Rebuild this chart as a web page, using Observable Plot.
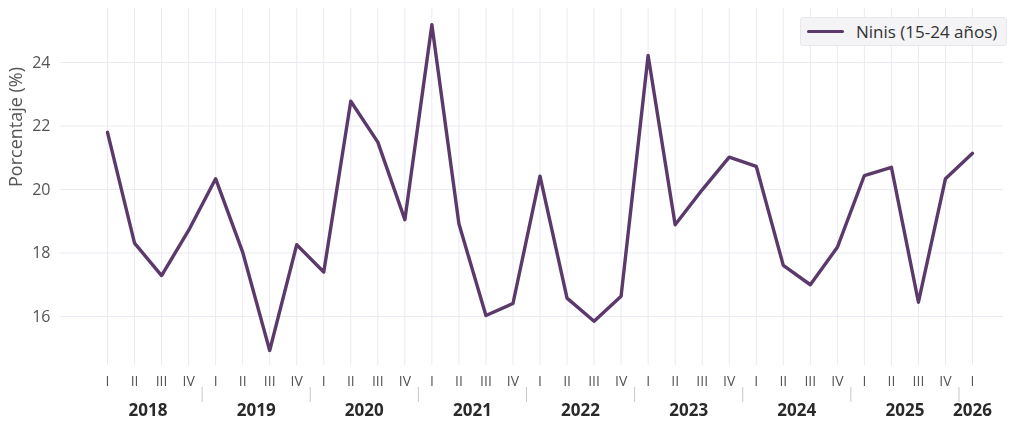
<!DOCTYPE html>
<html><head><meta charset="utf-8">
<script src="https://cdn.jsdelivr.net/npm/d3@7"></script>
<script src="https://cdn.jsdelivr.net/npm/@observablehq/plot@0.6"></script>
<style>
body{margin:0;background:#fff;font-family:"Open Sans",sans-serif}
#wrap{position:relative;width:1024px;height:434px}
#chart svg{will-change:transform;transform:translateZ(0)}
#legend{position:absolute;left:800px;top:17px;width:207px;height:29px;box-sizing:border-box;background:#f4f4f6;border:1px solid #e8e8ec;border-radius:3px;display:flex;align-items:center;font-size:17px;color:#333}
#legend .sw{display:inline-block;width:37px;height:3.5px;background:#5b3a6b;border-radius:2px;margin-left:6px;margin-right:12px}
</style></head>
<body>
<div id="wrap"><div id="chart"></div><div id="legend"><span class="sw"></span><span>Ninis (15-24 años)</span></div></div>
<script>
const years = [2018, 2019, 2020, 2021, 2022, 2023, 2024, 2025, 2026];
const quarters = ["I", "II", "III", "IV"];
const values = [
  21.80, 18.31, 17.29, 18.71,
  20.34, 18.03, 14.93, 18.26,
  17.40, 22.78, 21.49, 19.05,
  25.19, 18.92, 16.03, 16.41,
  20.42, 16.58, 15.85, 16.64,
  24.22, 18.89, 19.99, 21.02,
  20.73, 17.61, 17.00, 18.18,
  20.44, 20.70, 16.45, 20.34,
  21.14
];
const yTicks = [16, 18, 20, 22, 24];
const yTitle = "Porcentaje (%)";

const rows = values.map((v, i) => ({idx: i, year: years[Math.floor(i / 4)], q: quarters[i % 4], value: v}));
const n = values.length;
const yearRows = years.map((y, k) => {
  const s = 4 * k, e = Math.min(4 * k + 3, n - 1);
  return {year: y, center: (s + e) / 2};
});
const seps = years.slice(1).map((y, k) => 4 * (k + 1) - 0.5);

const chart = Plot.plot({
  width: 1024, height: 434,
  marginTop: 8, marginBottom: 69, marginLeft: 60, marginRight: 21,
  style: {fontFamily: "'Open Sans', sans-serif", background: "#fff"},
  x: {domain: [0, n - 1], range: [107, 972]},
  y: {domain: [14.457, 25.70]},
  marks: [
    Plot.ruleY(yTicks, {stroke: "#ece9f2", strokeWidth: 1}),
    Plot.ruleX(rows, {x: "idx", stroke: "#ece9f2", strokeWidth: 1}),
    Plot.line(rows, {x: "idx", y: "value", stroke: "#5b3a6b", strokeWidth: 3.4, curve: "linear"}),
    Plot.axisY({ticks: yTicks, tickSize: 0, tickPadding: 10, fontSize: 16, fill: "#555", label: null}),
    Plot.text([yTitle], {text: d => d, frameAnchor: "left", rotate: -90, dx: -44, fontSize: 18, fill: "#555"}),
    Plot.axisX({ticks: rows.map(d => d.idx), tickSize: 0, tickPadding: 11, fontSize: 14, fill: "#555",
      tickFormat: i => quarters[i % 4], label: null}),
    Plot.axisX({ticks: seps, tickSize: 15, tickFormat: () => "", dy: 22, stroke: "#c8c8c8", label: null}),
    Plot.text(yearRows, {x: "center", text: d => String(d.year), frameAnchor: "bottom", dy: 50,
      fontSize: 17, fontWeight: 700, fill: "#2a2a2a"})
  ]
});
document.getElementById("chart").appendChild(chart);
</script>
</body></html>
